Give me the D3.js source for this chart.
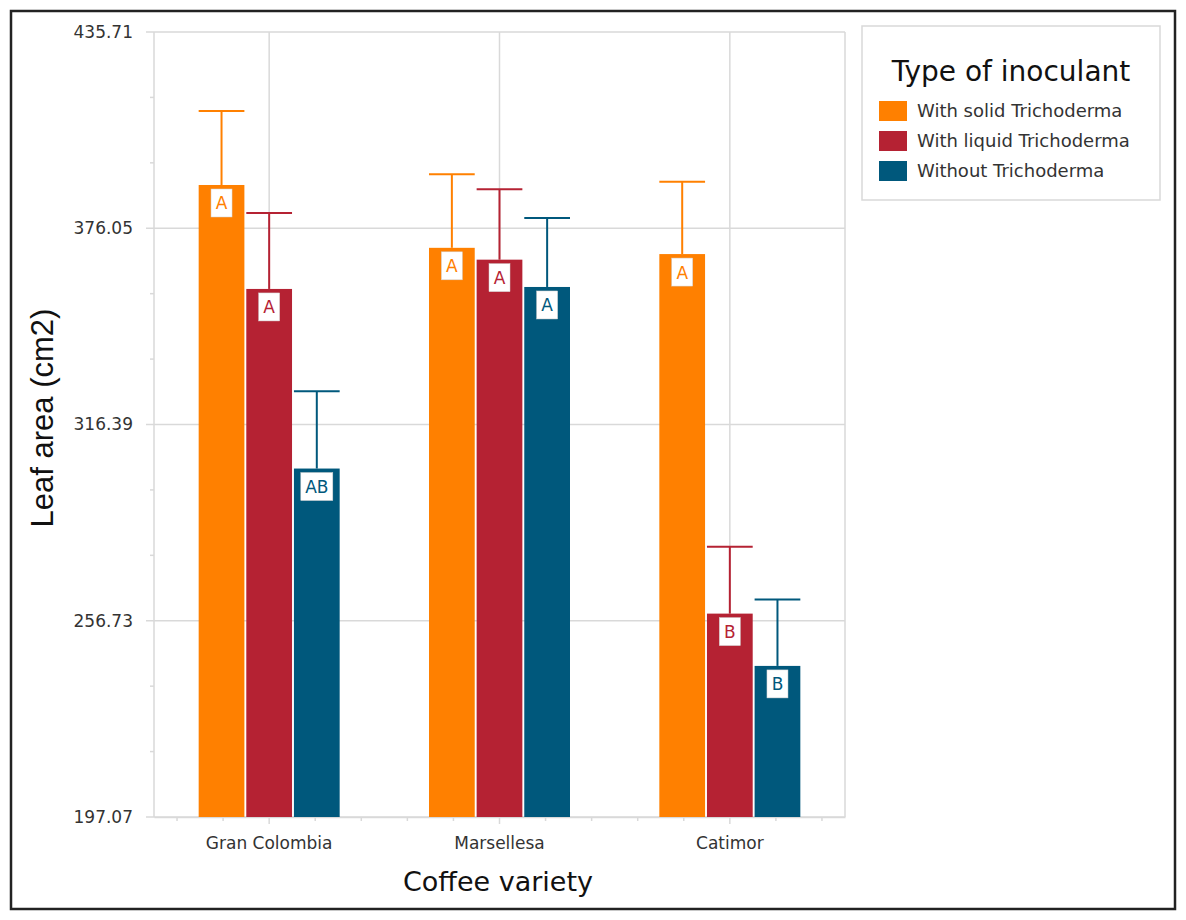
<!DOCTYPE html>
<html>
<head>
<meta charset="utf-8">
<script src="https://cdn.jsdelivr.net/npm/d3@7"></script>
<style>
  body { margin: 0; background: #fff; }
  svg { display: block; }
</style>
</head>
<body>
<script>
// data
var varieties = ["Gran Colombia", "Marsellesa", "Catimor"];
var inoculants = ["With solid Trichoderma", "With liquid Trichoderma", "Without Trichoderma"];
var solidMean = [389.2, 370.1, 368.2];
var liquidMean = [357.6, 366.5, 258.9];
var withoutMean = [303.0, 358.2, 243.0];
var solidSE = [22.5, 22.4, 22.0];
var liquidSE = [23.1, 21.4, 20.3];
var withoutSE = [23.5, 21.0, 20.2];
var solidLetters = ["A", "A", "A"];
var liquidLetters = ["A", "A", "B"];
var withoutLetters = ["AB", "A", "B"];
var yTicks = [197.07, 256.73, 316.39, 376.05, 435.71];

var colors = ["#ff8000", "#b52233", "#00587c"];
var means = [solidMean, liquidMean, withoutMean];
var ses = [solidSE, liquidSE, withoutSE];
var letters = [solidLetters, liquidLetters, withoutLetters];

var font = "DejaVu Sans, sans-serif";
var width = 1186, height = 920;
var svg = d3.select("body").append("svg")
  .attr("width", width)
  .attr("height", height);

// outer frame
svg.append("rect")
  .attr("x", 11).attr("y", 11)
  .attr("width", 1164).attr("height", 898)
  .attr("fill", "none").attr("stroke", "#222").attr("stroke-width", 2.5);

var pLeft = 154, pRight = 845, pTop = 32, pBottom = 817;

var y = d3.scaleLinear()
  .domain([yTicks[0], yTicks[yTicks.length - 1]])
  .range([pBottom, pTop]);

var x0 = d3.scaleBand().domain(varieties).range([pLeft, pRight]);
var x1 = d3.scaleBand().domain(inoculants).range([-70.5, 70.5]).paddingInner(0.04);
var bw = x0.bandwidth();

var grid = "#d9d9d9";

// horizontal gridlines
svg.append("g")
  .selectAll("line")
  .data(yTicks)
  .enter().append("line")
  .attr("x1", pLeft - 8).attr("x2", pRight)
  .attr("y1", function(d) { return y(d); })
  .attr("y2", function(d) { return y(d); })
  .attr("stroke", grid).attr("stroke-width", 1.5);

// vertical gridlines at category centres
svg.append("g")
  .selectAll("line")
  .data(varieties)
  .enter().append("line")
  .attr("x1", function(d) { return x0(d) + bw / 2; })
  .attr("x2", function(d) { return x0(d) + bw / 2; })
  .attr("y1", pTop).attr("y2", pBottom)
  .attr("stroke", grid).attr("stroke-width", 1.5);

// plot frame (left + right)
svg.append("line").attr("x1", pLeft).attr("x2", pLeft).attr("y1", pTop).attr("y2", pBottom)
  .attr("stroke", grid).attr("stroke-width", 1.5);
svg.append("line").attr("x1", pRight).attr("x2", pRight).attr("y1", pTop).attr("y2", pBottom)
  .attr("stroke", grid).attr("stroke-width", 1.5);

// minor y ticks
var step = (yTicks[1] - yTicks[0]) / 3;
var minorY = [];
for (var i = 0; i < yTicks.length - 1; i++) {
  minorY.push(yTicks[i] + step, yTicks[i] + 2 * step);
}
svg.append("g").selectAll("line").data(minorY).enter().append("line")
  .attr("x1", pLeft - 4).attr("x2", pLeft)
  .attr("y1", function(d) { return y(d); })
  .attr("y2", function(d) { return y(d); })
  .attr("stroke", grid).attr("stroke-width", 1.5);

// y axis labels
var yAxis = d3.axisLeft(y).tickValues(yTicks).tickSize(0).tickPadding(21)
  .tickFormat(d3.format(".2f"));
var yg = svg.append("g").attr("transform", "translate(" + pLeft + ",0)").call(yAxis);
yg.select(".domain").remove();
yg.selectAll("text")
  .attr("font-family", font)
  .attr("font-size", 17).attr("fill", "#333");

// x axis minor ticks
var minorTicks = [];
varieties.forEach(function(v) {
  var c = x0(v) + bw / 2;
  [-2, -1, 1, 2].forEach(function(m) { minorTicks.push(c + m * bw / 5); });
});
svg.append("g").selectAll("line").data(minorTicks).enter().append("line")
  .attr("x1", function(d) { return d; }).attr("x2", function(d) { return d; })
  .attr("y1", pBottom).attr("y2", pBottom + 4)
  .attr("stroke", grid).attr("stroke-width", 1.5);

var xAxis = d3.axisBottom(x0).tickSize(7).tickSizeOuter(0).tickPadding(13);
var xg = svg.append("g").attr("transform", "translate(0," + pBottom + ")").call(xAxis);
xg.select(".domain").attr("stroke", grid).attr("stroke-width", 1.5);
xg.selectAll(".tick line").attr("stroke", grid).attr("stroke-width", 1.5);
xg.selectAll("text")
  .attr("font-family", font)
  .attr("font-size", 17).attr("fill", "#333");

// bars
var rows = [];
varieties.forEach(function(v, vi) {
  inoculants.forEach(function(s, si) {
    rows.push({ variety: v, series: s, si: si, mean: means[si][vi], se: ses[si][vi], letter: letters[si][vi] });
  });
});

svg.append("g").selectAll("rect")
  .data(rows).enter().append("rect")
  .attr("x", function(d) { return x0(d.variety) + bw / 2 + x1(d.series); })
  .attr("y", function(d) { return y(d.mean); })
  .attr("width", x1.bandwidth())
  .attr("height", function(d) { return pBottom - y(d.mean); })
  .attr("fill", function(d) { return colors[d.si]; });

// error bars (upper whisker only)
var errG = svg.append("g");
rows.forEach(function(d) {
  var bx = x0(d.variety) + bw / 2 + x1(d.series);
  var cx = bx + x1.bandwidth() / 2;
  errG.append("line")
    .attr("x1", cx).attr("x2", cx)
    .attr("y1", y(d.mean)).attr("y2", y(d.mean + d.se))
    .attr("stroke", colors[d.si]).attr("stroke-width", 2);
  errG.append("line")
    .attr("x1", bx).attr("x2", bx + x1.bandwidth())
    .attr("y1", y(d.mean + d.se)).attr("y2", y(d.mean + d.se))
    .attr("stroke", colors[d.si]).attr("stroke-width", 2);
});

// letter labels
var labG = svg.append("g");
rows.forEach(function(d) {
  var cx = x0(d.variety) + bw / 2 + x1(d.series) + x1.bandwidth() / 2;
  var t0 = y(d.mean) + 4;
  var w = d.letter.length > 1 ? 32 : 21;
  labG.append("rect")
    .attr("x", cx - w / 2).attr("y", t0)
    .attr("width", w).attr("height", 28)
    .attr("fill", "#fff").attr("stroke", "#d0d0d0").attr("stroke-width", 0.5);
  labG.append("text")
    .attr("x", cx).attr("y", t0 + 20.5)
    .attr("text-anchor", "middle")
    .attr("font-family", font)
    .attr("font-size", 17)
    .attr("fill", colors[d.si])
    .text(d.letter);
});

// axis titles
svg.append("text")
  .attr("transform", "translate(53,418) rotate(-90)")
  .attr("text-anchor", "middle")
  .attr("font-family", "Liberation Sans, Arial, sans-serif")
  .attr("font-size", 31)
  .attr("fill", "#111")
  .text("Leaf area (cm2)");

svg.append("text")
  .attr("x", 498).attr("y", 891)
  .attr("text-anchor", "middle")
  .attr("font-family", font)
  .attr("font-size", 27)
  .attr("fill", "#111")
  .text("Coffee variety");

// legend
var lg = svg.append("g");
lg.append("rect")
  .attr("x", 862).attr("y", 26).attr("width", 298).attr("height", 174)
  .attr("fill", "#fff").attr("stroke", "#d9d9d9").attr("stroke-width", 1.5);
lg.append("text")
  .attr("x", 1011).attr("y", 81)
  .attr("text-anchor", "middle")
  .attr("font-family", font)
  .attr("font-size", 28).attr("fill", "#111")
  .text("Type of inoculant");
var items = lg.selectAll("g.item").data(inoculants).enter().append("g")
  .attr("transform", function(d, i) { return "translate(879," + (101 + i * 30) + ")"; });
items.append("rect").attr("width", 28).attr("height", 20)
  .attr("fill", function(d, i) { return colors[i]; });
items.append("text").attr("x", 38).attr("y", 16)
  .attr("font-family", font)
  .attr("font-size", 18).attr("fill", "#333")
  .text(function(d) { return d; });
</script>
</body>
</html>
